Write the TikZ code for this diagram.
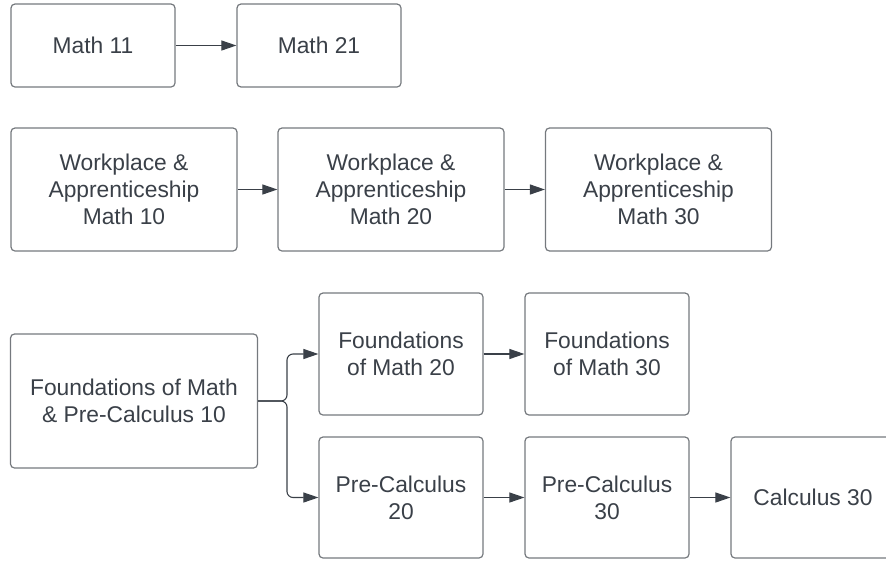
\documentclass[tikz,border=0pt]{standalone}
\usepackage{fontspec}
\setmainfont{Liberation Sans}
\usepackage{tikz}
\usetikzlibrary{arrows.meta}
\definecolor{boxline}{HTML}{75797E}
\definecolor{inkgray}{HTML}{3A4048}
\tikzset{
  course/.style={
    draw=boxline, line width=1.2pt, rounded corners=4pt,
    text=inkgray, align=center, inner sep=0pt,
    font=\fontsize{22.8}{27}\selectfont,
    minimum width=164pt, minimum height=122pt},
  wide course/.style={course, minimum width=226pt, minimum height=123pt},
  link/.style={
    draw=inkgray, line width=1.1pt,
    -{Triangle[length=15pt,width=10pt]}},
  }

\begin{document}
\begin{tikzpicture}[x=1pt,y=-1pt]
    \useasboundingbox (0,0) rectangle (886,560);
    \clip (0,0) rectangle (886,560);

    % Top row
    \node[course, minimum height=83pt] (m11) at (93,45.5) {Math 11};
    \node[course, minimum height=83pt] (m21) at (319,45.5) {Math 21};

    % Workplace row
    \node[wide course] (wa10) at (124,189.5) {Workplace \&\\Apprenticeship\\Math 10};
    \node[wide course] (wa20) at (391,189.5) {Workplace \&\\Apprenticeship\\Math 20};
    \node[wide course] (wa30) at (658.5,189.5) {Workplace \&\\Apprenticeship\\Math 30};

    % Foundations / Pre-Calculus
    \node[course, minimum width=247pt, minimum height=134pt] (fpc10) at (134,401) {Foundations of Math\\\& Pre-Calculus 10};
    \node[course] (f20) at (401,354) {Foundations\\of Math 20};
    \node[course] (f30) at (607,354) {Foundations\\of Math 30};
    \node[course, minimum height=121pt] (pc20) at (401,497.5) {Pre-Calculus\\20};
    \node[course, minimum height=121pt] (pc30) at (607,497.5) {Pre-Calculus\\30};
    \node[course, minimum height=121pt] (calc30) at (813,497.5) {Calculus 30};

    % Arrows
    \draw[link] (m11) -- (m21);
    \draw[link] (wa10) -- (wa20);
    \draw[link] (wa20) -- (wa30);
    \coordinate (split) at (287,401);
    \draw[link, rounded corners=6pt] (fpc10.east) -- (split) |- (f20.west);
    \draw[link, rounded corners=6pt] (fpc10.east) -- (split) |- (pc20.west);
    \draw[link] (f20) -- (f30);
    \draw[link] (pc20) -- (pc30);
    \draw[link] (pc30) -- (calc30);
\end{tikzpicture}
\end{document}
